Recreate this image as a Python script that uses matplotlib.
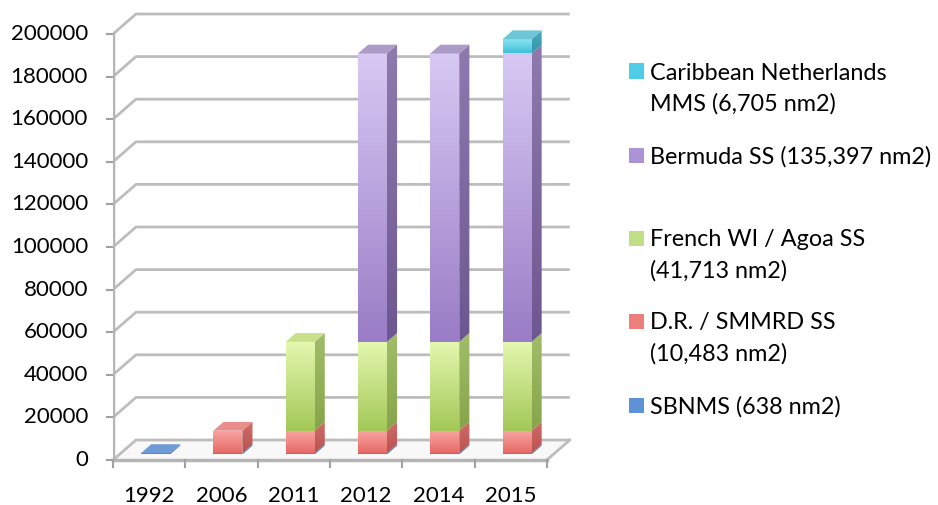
import numpy as np
import matplotlib.pyplot as plt
from matplotlib.patches import Polygon, Rectangle
from matplotlib.colors import LinearSegmentedColormap

plt.rcParams['font.family'] = ['Lato', 'DejaVu Sans']

# data
years = ['1992', '2006', '2011', '2012', '2014', '2015']
sbnms = [638, 638, 638, 638, 638, 638]
dr_smmrd = [0, 10483, 10483, 10483, 10483, 10483]
french_agoa = [0, 0, 41713, 41713, 41713, 41713]
bermuda = [0, 0, 0, 135397, 135397, 135397]
caribbean = [0, 0, 0, 0, 0, 6705]
y_ticks = list(range(0, 200001, 20000))
legend_labels = ['Caribbean Netherlands\nMMS (6,705 nm2)',
                 'Bermuda SS (135,397 nm2)',
                 'French WI / Agoa SS\n(41,713 nm2)',
                 'D.R. / SMMRD SS\n(10,483 nm2)',
                 'SBNMS (638 nm2)']

series = [sbnms, dr_smmrd, french_agoa, bermuda, caribbean]
# (front bottom, front top, side bottom, side top, top face, legend)
colors = [
    ('#4a7cc4', '#7aa6e0', '#3e6aa8', '#5580be', '#6e9ad6', '#5f91d6'),
    ('#e56a66', '#f9a6a2', '#b95350', '#cf6c69', '#e88d89', '#ea7f7b'),
    ('#a4c858', '#e3f7ae', '#86a54a', '#a1bd6a', '#c9e08a', '#c2de85'),
    ('#9a7dc6', '#d7c8f3', '#6c5790', '#8f7aae', '#ab9bc6', '#ab93d6'),
    ('#3fc0da', '#8fe5f3', '#3296a8', '#4aaec0', '#6cc6d6', '#4fcde6'),
]

W, H = 938, 505
fig = plt.figure(figsize=(W / 100, H / 100), dpi=100)
px_x = 72.3                 # pixels per category
px_y = 426 / 200000         # pixels per unit value
ax = fig.add_axes([113 / W, 1 - 460 / H, 6.4 * px_x / W, (212000 * px_y) / H])
ax.set_xlim(-0.5, 5.9)
ax.set_ylim(0, 212000)
ax.axis('off')

dx = 23 / px_x
dy = 20 / px_y
n = len(years)
grid_c = '#bdbdbd'

# floor
floor = Polygon([(-0.5, 0), (n - 0.5, 0), (n - 0.5 + dx, dy), (-0.5 + dx, dy)],
                facecolor='#f8f8f8', edgecolor='none', zorder=0)
ax.add_patch(floor)

# back wall gridlines + left wall diagonals
for v in y_ticks:
    ax.plot([-0.5, -0.5 + dx, n - 0.5 + dx], [v, v + dy, v + dy],
            color=grid_c, lw=2, zorder=1, solid_capstyle='butt')
    ax.plot([-0.5 - 6 / px_x, -0.5], [v, v], color='#a0a0a0', lw=1.5,
            clip_on=False, zorder=2)
    ax.text(-0.5 - 25 / px_x, v, str(v), ha='right', va='center',
            fontsize=16, clip_on=False)

ax.plot([n - 0.5, n - 0.5 + dx], [0, dy], color=grid_c, lw=2, zorder=1)
ax.plot([-0.5, -0.5], [0, 200000], color='#b5b5b5', lw=2.5, zorder=2)
ax.plot([-0.5, n - 0.5], [0, 0], color='#b5b5b5', lw=2.5, zorder=2,
        clip_on=False)
for b in np.arange(n + 1) - 0.5:
    ax.plot([b, b], [0, -7 / px_y], color='#a0a0a0', lw=1.5, clip_on=False)
for i, yr in enumerate(years):
    ax.text(i, -36 / px_y, yr, ha='center', va='center', fontsize=16,
            clip_on=False)


def grad_fill(pts, c0, c1, z):
    pts = np.array(pts)
    poly = Polygon(pts, facecolor='none', edgecolor='none', zorder=z)
    ax.add_patch(poly)
    cmap = LinearSegmentedColormap.from_list('g', [c0, c1])
    g = np.linspace(0, 1, 64).reshape(-1, 1)
    im = ax.imshow(g, extent=[pts[:, 0].min(), pts[:, 0].max(),
                              pts[:, 1].min(), pts[:, 1].max()],
                   origin='lower', cmap=cmap, aspect='auto', zorder=z,
                   interpolation='bilinear')
    im.set_clip_path(poly)


w = 0.40
d1, d2 = 0.28, 0.72
ddx, ddy = (d2 - d1) * dx, (d2 - d1) * dy
for i in range(n):
    bottom = 0
    vals = [s[i] for s in series]
    top_k = max(k for k, v in enumerate(vals) if v > 0)
    for k, v in enumerate(vals):
        if v <= 0:
            continue
        fb, ft, sb, st, tc, _ = colors[k]
        x0 = i - w / 2 + d1 * dx
        x1 = x0 + w
        y0 = bottom + d1 * dy
        y1 = y0 + v
        z = 3 + i
        grad_fill([(x0, y0), (x1, y0), (x1, y1), (x0, y1)], fb, ft, z)
        grad_fill([(x1, y0), (x1 + ddx, y0 + ddy), (x1 + ddx, y1 + ddy),
                   (x1, y1)], sb, st, z)
        if k == top_k:
            ax.add_patch(Polygon([(x0, y1), (x1, y1), (x1 + ddx, y1 + ddy),
                                  (x0 + ddx, y1 + ddy)], facecolor=tc,
                                 edgecolor='none', zorder=z))
        bottom += v

ax.set_xlim(-0.5, 5.9)
ax.set_ylim(0, 212000)

# legend (top to bottom)
leg_y = [73, 157, 240, 323, 407]
leg_colors = [colors[4][5], colors[3][5], colors[2][5], colors[1][5],
              colors[0][5]]
for lab, yy, c in zip(legend_labels, leg_y, leg_colors):
    fig.patches.append(Rectangle((629 / W, 1 - (yy + 5.5) / H), 15 / W,
                                 15 / H, transform=fig.transFigure,
                                 facecolor=c, edgecolor='none'))
    for j, line in enumerate(lab.split('\n')):
        fig.text(650 / W, 1 - (yy + 31 * j) / H, line, ha='left',
                 va='center', fontsize=16.8)

fig.savefig('out.png', dpi=100)
